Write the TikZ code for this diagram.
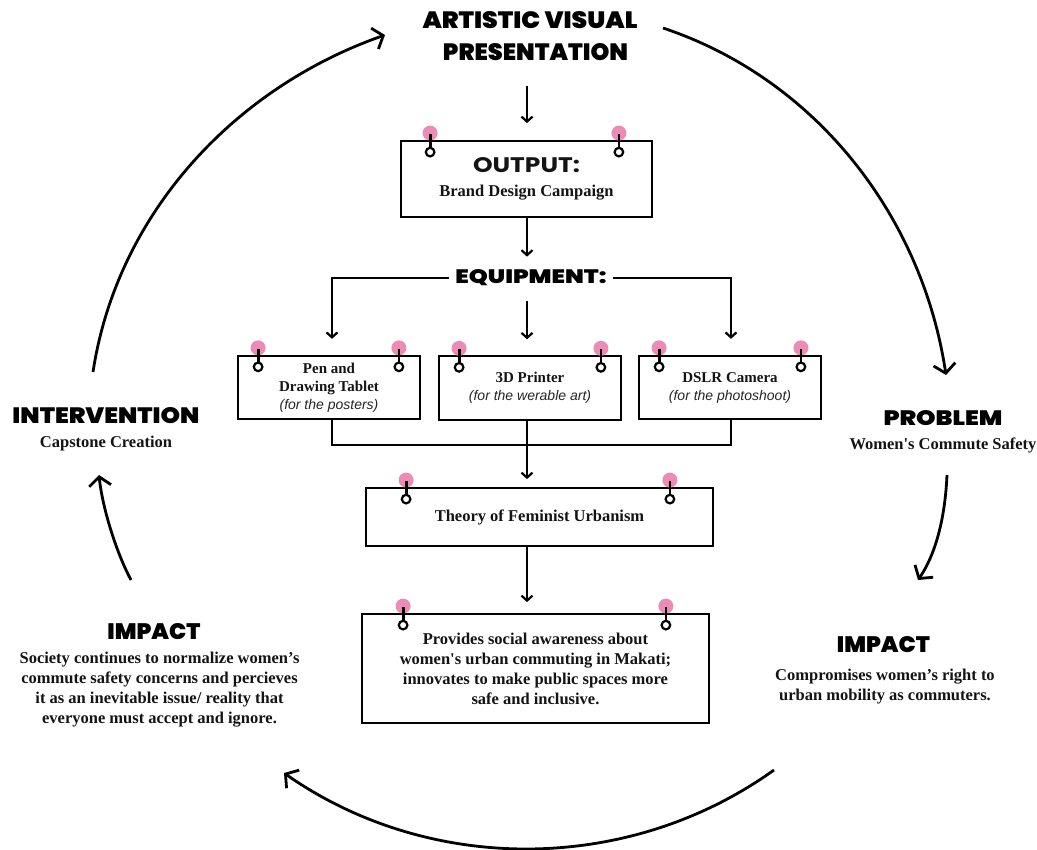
\documentclass[tikz,border=0pt]{standalone}
\usepackage{fontspec}
\setmainfont{Liberation Serif}[Ligatures=TeXOff]
\newfontfamily\headfont{Poppins Black}
\newfontfamily\itfont{Liberation Sans}
\usetikzlibrary{arrows.meta,calc}
\definecolor{pinkpin}{RGB}{236,140,182}
\definecolor{ink}{RGB}{20,20,20}
\newcommand\hd[3]{\resizebox{#1pt}{#2pt}{\headfont #3}}
\newcommand\note[1]{{\itfont\itshape\mdseries\fontsize{14}{18}\selectfont\color{black!85}#1}}
\tikzset{
  txt/.style={font=\bfseries\fontsize{16.5}{20}\selectfont, align=center, inner sep=0pt, text=ink},
  hdn/.style={inner sep=0pt},
  box/.style={draw, line width=1.8pt, fill=white, inner sep=0pt, align=center, text=ink,
              font=\bfseries\fontsize{16.5}{20}\selectfont},
  ebox/.style={box, minimum width=182pt, minimum height=63.5pt, font=\bfseries\fontsize{15}{18}\selectfont},
  arr/.style={line width=2.2pt, -{Straight Barb[length=5pt,width=11pt]}},
  big/.style={line width=2.8pt, -{Straight Barb[length=9pt,width=22pt]}},
  wire/.style={line width=2.2pt},
  hook/.pic={
    \fill[pinkpin] (0,-7) circle[radius=7.5pt];
    \draw[line width=2.8pt] (0,-6) -- (0,8);
    \draw[line width=2.2pt, fill=white] (0,12) circle[radius=4.3pt];
  }
}
\begin{document}
\begin{tikzpicture}[x=1pt,y=-1pt]
\useasboundingbox[fill=white] (0,0) rectangle (1037,850);
\coordinate (spine) at (527,0);

% title
\node[hdn] (title1) at (530,20) {\hd{215}{17}{ARTISTIC VISUAL}};
\node[hdn] (title2) at (535.5,52) {\hd{185}{17}{PRESENTATION}};

% output box
\node[box, minimum width=251pt, minimum height=76pt] (out) at (526.5,179)
  {\hd{107}{15}{OUTPUT:}\\[4pt]Brand Design Campaign};

% equipment
\node[hdn, inner xsep=6pt, inner ysep=6pt] (equip) at (531,278) {\hd{151}{14}{EQUIPMENT:}};

\node[ebox] (pen) at (329,387.5) {Pen and\\Drawing Tablet\\\note{(for the posters)}};
\node[ebox] (tdp) at (530,388) {3D Printer\\\note{(for the werable art)}};
\node[ebox] (dslr) at (730,387.5) {DSLR Camera\\\note{(for the photoshoot)}};

\node[box, minimum width=347pt, minimum height=58pt] (theory) at (539.5,517) {Theory of Feminist Urbanism};
\node[box, minimum width=347pt, minimum height=109pt] (prov) at (535.5,668.5)
  {Provides social awareness about\\women's urban commuting in Makati;\\innovates to make public spaces more\\safe and inclusive.};

% hooks
\foreach \b/\l/\r in {out/30/34, pen/21/22, tdp/21/21, dslr/21/21, theory/41/44, prov/42/44}{
  \pic at ($(\b.north west)+(\l,0)$) {hook};
  \pic at ($(\b.north east)+(-\r,0)$) {hook};
}

% side texts
\node[hdn] (probh) at (943,418) {\hd{119}{15}{PROBLEM}};
\node[txt] (probt) at (943,445) {Women's Commute Safety};
\node[hdn] (imprh) at (883.5,645) {\hd{93}{16}{IMPACT}};
\node[txt, font=\bfseries\fontsize{16.5}{19.5}\selectfont] (imprt) at (885,686.5) {Compromises women’s right to\\urban mobility as commuters.};
\node[hdn] (implh) at (154,632) {\hd{93}{16}{IMPACT}};
\node[txt] (implt) at (159.5,690) {Society continues to normalize women’s\\commute safety concerns and percieves\\it as an inevitable issue/ reality that\\everyone must accept and ignore.};
\node[hdn] (intvh) at (106,416) {\hd{187}{16}{INTERVENTION}};
\node[txt] (intvt) at (106,444) {Capstone Creation};

% connectors
\coordinate (mrg) at (527,445);
\draw[arr] ($(title2.south -| spine)+(0,25)$) -- ($(out.north -| spine)+(0,-17)$);
\draw[arr] (out.south -| spine) -- ($(equip.north -| spine)+(0,-7)$);
\draw[arr] (equip.west) -| ($(pen.north)+(3,-16)$);
\draw[arr] (equip.east) -| ($(dslr.north)+(1,-16)$);
\draw[arr] ($(equip.south -| spine)+(0,9)$) -- ($(tdp.north -| spine)+(0,-16)$);
\draw[wire] ($(pen.south)+(3,0)$) |- (mrg) -| ($(dslr.south)+(1,0)$);
\draw[arr] (tdp.south -| spine) -- ($(theory.north -| spine)+(0,-8)$);
\draw[arr] (theory.south -| spine) -- ($(prov.north -| spine)+(0,-11)$);

% cycle arrows
\coordinate (c1s) at (93,372);   \coordinate (c1e) at (385,35);
\coordinate (c2s) at (663,28);   \coordinate (c2e) at (946,375);
\coordinate (c3s) at (947,475);  \coordinate (c3e) at (918,580);
\coordinate (c4s) at (774,770);  \coordinate (c4e) at (284,773);
\coordinate (c5s) at (131,580);  \coordinate (c5e) at (99,475);
\draw[big] (c1s) .. controls (117,214) and (234,88) .. (c1e);
\draw[big] (c2s) .. controls (816,79) and (922,216) .. (c2e);
\draw[big] (c3s) .. controls (945,520) and (935,555) .. (c3e);
\draw[big] (c4s) .. controls (629,874) and (430,875) .. (c4e);
\draw[big] (c5s) .. controls (115,550) and (102,505) .. (c5e);
\end{tikzpicture}
\end{document}
